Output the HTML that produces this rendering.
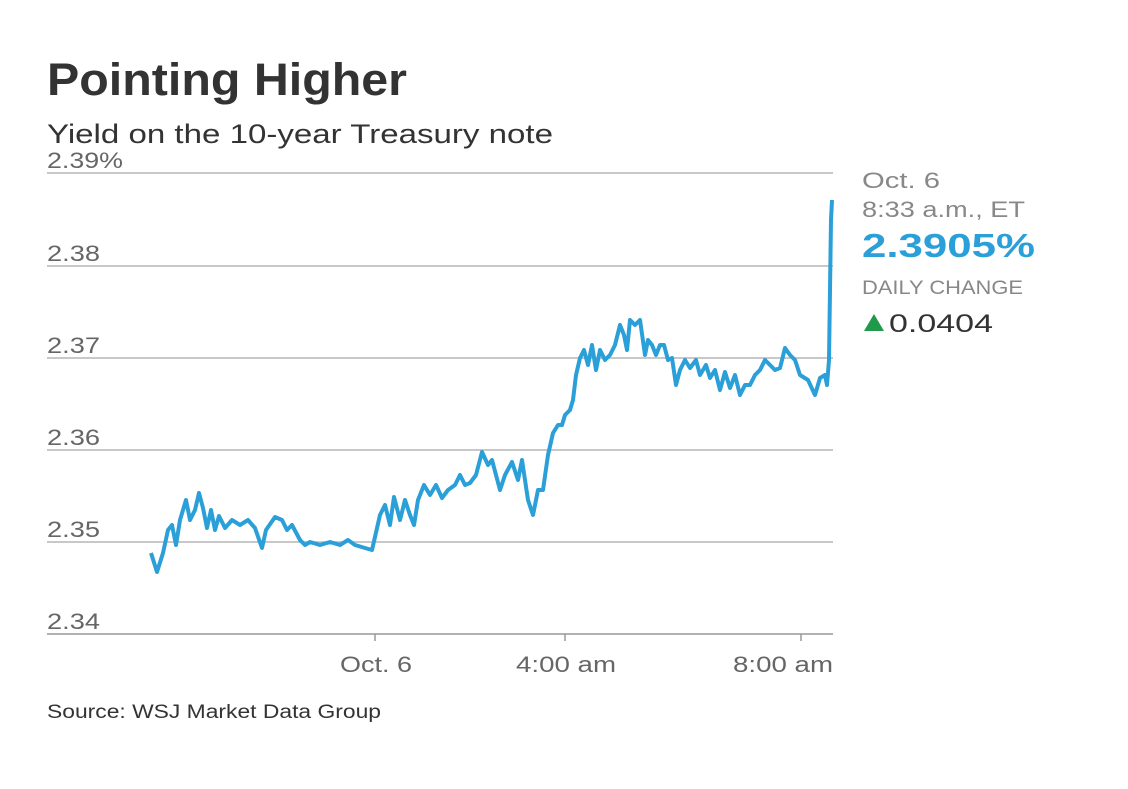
<!DOCTYPE html>
<html><head><meta charset="utf-8"><style>
body{margin:0;background:#fff;width:1128px;height:784px;overflow:hidden;font-family:"Liberation Sans",sans-serif;}
</style></head><body>
<svg width="1128" height="784" xmlns="http://www.w3.org/2000/svg" font-family="Liberation Sans, sans-serif">
<text x="47" y="95" font-size="45" font-weight="bold" fill="#333" textLength="360" lengthAdjust="spacingAndGlyphs">Pointing Higher</text>
<text x="47" y="143" font-size="27" fill="#333" textLength="506" lengthAdjust="spacingAndGlyphs">Yield on the 10-year Treasury note</text>
<g stroke="#b5b5b5" stroke-width="1.5">
<line x1="47" y1="173" x2="833" y2="173"/>
<line x1="47" y1="266" x2="833" y2="266"/>
<line x1="47" y1="358" x2="833" y2="358"/>
<line x1="47" y1="450" x2="833" y2="450"/>
<line x1="47" y1="542" x2="833" y2="542"/>
<line x1="47" y1="634" x2="833" y2="634" stroke="#999"/>
<line x1="375" y1="634" x2="375" y2="641" stroke="#999"/>
<line x1="565" y1="634" x2="565" y2="641" stroke="#999"/>
<line x1="801" y1="634" x2="801" y2="641" stroke="#999"/>
</g>
<g font-size="22" fill="#666" lengthAdjust="spacingAndGlyphs">
<text x="47" y="168" textLength="76" lengthAdjust="spacingAndGlyphs">2.39%</text>
<text x="47" y="261" textLength="53" lengthAdjust="spacingAndGlyphs">2.38</text>
<text x="47" y="353" textLength="53" lengthAdjust="spacingAndGlyphs">2.37</text>
<text x="47" y="445" textLength="53" lengthAdjust="spacingAndGlyphs">2.36</text>
<text x="47" y="537" textLength="53" lengthAdjust="spacingAndGlyphs">2.35</text>
<text x="47" y="629" textLength="53" lengthAdjust="spacingAndGlyphs">2.34</text>
<text x="340" y="672" textLength="72" lengthAdjust="spacingAndGlyphs">Oct. 6</text>
<text x="516" y="672" textLength="100" lengthAdjust="spacingAndGlyphs">4:00 am</text>
<text x="733" y="672" textLength="100" lengthAdjust="spacingAndGlyphs">8:00 am</text>
</g>
<text x="47" y="718" font-size="19" fill="#333" textLength="334" lengthAdjust="spacingAndGlyphs">Source: WSJ Market Data Group</text>
<polyline fill="none" stroke="#2a9fd8" stroke-width="4" stroke-linejoin="round" points="151,553 157,572 163,553 168,530 172,525 176,545 180,520 186,500 190,520 195,510 199,493 203,508 207,528 211,510 215,530 219,516 225,528 232,520 240,525 248,520 255,528 262,548 266,530 275,517 282,520 287,530 292,525 300,540 305,545 310,542 320,545 330,542 340,545 348,540 355,545 365,548 372,550 380,515 385,505 390,525 394,497 400,520 405,500 410,515 414,525 418,500 424,485 430,495 436,485 442,498 448,490 455,485 460,475 465,485 470,483 476,475 482,452 488,465 492,460 496,475 500,490 505,475 512,462 518,480 522,460 528,500 533,515 538,490 543,490 548,455 553,433 558,425 562,425 565,415 570,410 573,400 576,375 580,358 584,350 588,365 592,345 596,370 600,350 605,360 610,355 615,345 620,325 624,335 627,350 630,320 635,325 640,320 645,355 648,340 652,345 656,355 660,345 664,345 668,360 672,358 676,385 680,370 685,360 690,368 696,360 700,375 706,365 710,378 715,370 720,390 725,372 730,388 735,375 740,395 745,385 750,385 755,375 760,370 765,360 770,365 775,370 780,368 785,348 790,355 795,360 800,375 808,380 815,395 820,378 825,375 827,385 829,360 831,220 832,200"/>
<text x="862" y="188" font-size="22" fill="#888" textLength="78" lengthAdjust="spacingAndGlyphs">Oct. 6</text>
<text x="862" y="217" font-size="22" fill="#888" textLength="163" lengthAdjust="spacingAndGlyphs">8:33 a.m., ET</text>
<text x="862" y="257" font-size="33" font-weight="bold" fill="#2a9fd8" textLength="173" lengthAdjust="spacingAndGlyphs">2.3905%</text>
<text x="862" y="294" font-size="19" fill="#888" textLength="161" lengthAdjust="spacingAndGlyphs">DAILY CHANGE</text>
<polygon points="864,331 874,314 884,331" fill="#1e9a4a"/>
<text x="889" y="332" font-size="25" fill="#333" textLength="104" lengthAdjust="spacingAndGlyphs">0.0404</text>
</svg>
</body></html>
